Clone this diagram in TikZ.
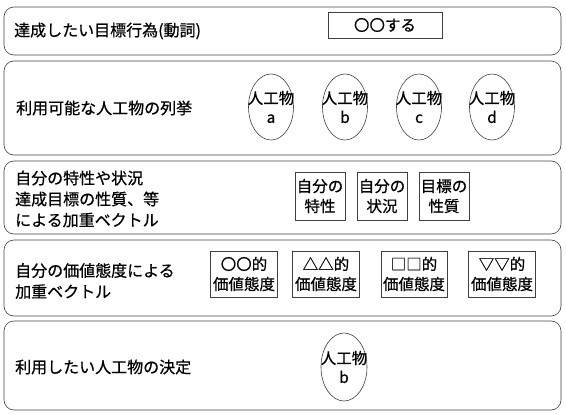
\documentclass[tikz,border=0pt]{standalone}
\usepackage{fontspec}
\setmainfont{Noto Sans CJK JP}[FakeBold=0.6]
\usetikzlibrary{shapes.geometric}
\begin{document}
\begin{tikzpicture}[x=1pt,y=-1pt,
  panel/.style={draw=black!75, line width=0.6pt, rounded corners=10pt},
  lbl/.style={anchor=west, font=\fontsize{16}{21}\selectfont, align=left, inner sep=0pt},
  sqbox/.style={draw=black!75, line width=0.6pt, font=\fontsize{15.5}{20}\selectfont, align=center, inner sep=0pt},
  art/.style={draw=black!75, line width=0.6pt, ellipse, inner sep=0pt, minimum width=45pt, minimum height=66pt},
  arttext/.style={font=\fontsize{15.5}{19}\selectfont, align=center, inner sep=0pt},
]
\useasboundingbox (0,0) rectangle (566,415);
% panels
\draw[panel] (4,7) rectangle (561,55);
\draw[panel] (4,61) rectangle (561,155);
\draw[panel] (4,161) rectangle (561,234);
\draw[panel] (4,240) rectangle (561,316);
\draw[panel] (4,321) rectangle (561,410);
% panel 1
\node[lbl] (t1) at (14,31) {達成したい目標行為(動詞)};
\node[sqbox, minimum width=114pt, minimum height=26pt] (verb) at (385,25) {〇〇する};
% panel 2
\node[lbl] (t2) at (16,108) {利用可能な人工物の列挙};
\node[art] (a) at (271,107) {};
\node[art] (b) at (345,107) {};
\node[art] (c) at (419,107) {};
\node[art] (d) at (492,107) {};
\node[arttext] (at) at (a) {人工物\\a};
\node[arttext] (bt) at (b) {人工物\\b};
\node[arttext] (ct) at (c) {人工物\\c};
\node[arttext] (dt) at (d) {人工物\\d};
% panel 3
\node[lbl] (t3) at (15,199) {自分の特性や状況\\達成目標の性質、等\\による加重ベクトル};
\node[sqbox, minimum width=50pt, minimum height=48pt] (p1) at (320,196) {自分の\\特性};
\node[sqbox, minimum width=50pt, minimum height=48pt] (p2) at (382,196) {自分の\\状況};
\node[sqbox, minimum width=50pt, minimum height=48pt] (p3) at (444,196) {目標の\\性質};
% panel 4
\node[lbl] (t4) at (15,281) {自分の価値態度による\\加重ベクトル};
\node[sqbox, minimum width=67pt, minimum height=46pt] (v1) at (244,274) {〇〇的\\価値態度};
\node[sqbox, minimum width=67pt, minimum height=46pt] (v2) at (326,274) {△△的\\価値態度};
\node[sqbox, minimum width=66pt, minimum height=46pt] (v3) at (414,274) {□□的\\価値態度};
\node[sqbox, minimum width=67pt, minimum height=46pt] (v4) at (502,274) {▽▽的\\価値態度};
% panel 5
\node[lbl] (t5) at (15,367) {利用したい人工物の決定};
\node[art, minimum width=46pt, minimum height=68pt] (res) at (344,367) {};
\node[arttext] (rest) at (res) {人工物\\b};
\end{tikzpicture}
\end{document}
